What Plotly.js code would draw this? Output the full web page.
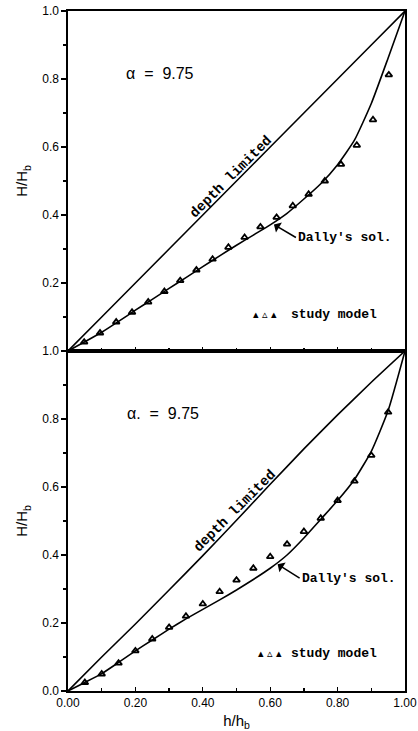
<!DOCTYPE html>
<html>
<head>
<meta charset="utf-8">
<script src="https://cdn.plot.ly/plotly-3.0.1.min.js"></script>
<style>html,body{margin:0;padding:0;background:#fff;}#chart{width:418px;height:731px;}</style>
</head>
<body>
<div id="chart"></div>
<script>
// ---- data ----
// top panel (study model points)
const topModelX = [0.048, 0.095, 0.143, 0.190, 0.238, 0.286, 0.333, 0.381, 0.429, 0.476,
                   0.524, 0.571, 0.619, 0.667, 0.714, 0.762, 0.810, 0.857, 0.905, 0.952];
const topModelY = [0.026, 0.053, 0.085, 0.114, 0.144, 0.175, 0.207, 0.238, 0.270, 0.305,
                   0.334, 0.365, 0.393, 0.427, 0.461, 0.500, 0.549, 0.605, 0.680, 0.812];
// bottom panel (study model points)
const botModelX = [0.05, 0.10, 0.15, 0.20, 0.25, 0.30, 0.35, 0.40, 0.45, 0.50,
                   0.55, 0.60, 0.65, 0.70, 0.75, 0.80, 0.85, 0.90, 0.95];
const botModelY = [0.025, 0.050, 0.082, 0.118, 0.153, 0.187, 0.220, 0.256, 0.292, 0.326,
                   0.361, 0.395, 0.432, 0.469, 0.508, 0.560, 0.617, 0.693, 0.820];
// Dally's solution curves
const dallyX = [0, 0.05, 0.10, 0.15, 0.20, 0.25, 0.30, 0.35, 0.40, 0.45, 0.50,
                0.55, 0.60, 0.65, 0.70, 0.75, 0.80, 0.85, 0.90, 0.95, 1.00];
const topDallyY = [0, 0.027, 0.055, 0.087, 0.120, 0.152, 0.184, 0.216, 0.248, 0.280, 0.311,
                   0.341, 0.371, 0.405, 0.447, 0.492, 0.548, 0.620, 0.728, 0.862, 1.000];
const botDallyY = [0, 0.025, 0.051, 0.084, 0.118, 0.150, 0.182, 0.212, 0.240, 0.268, 0.297,
                   0.328, 0.361, 0.400, 0.450, 0.505, 0.560, 0.622, 0.705, 0.825, 1.000];
// depth limited curves
const depthX = [0, 0.1, 0.2, 0.3, 0.4, 0.5, 0.6, 0.7, 0.8, 0.9, 1.0];
const topDepthY = [0, 0.100, 0.200, 0.300, 0.400, 0.500, 0.600, 0.700, 0.800, 0.900, 1.000];
const botDepthY = [0, 0.100, 0.197, 0.297, 0.398, 0.502, 0.608, 0.712, 0.812, 0.908, 1.000];
// tick labels
const xTickVals = [0, 0.2, 0.4, 0.6, 0.8, 1.0];
const xTickText = ['0.00', '0.20', '0.40', '0.60', '0.80', '1.00'];
const topYTickVals = [0.2, 0.4, 0.6, 0.8, 1.0];
const topYTickText = ['0.2', '0.4', '0.6', '0.8', '1.0'];
const botYTickVals = [0, 0.2, 0.4, 0.6, 0.8, 1.0];
const botYTickText = ['0.0', '0.2', '0.4', '0.6', '0.8', '1.0'];
const minorVals = [0.1, 0.3, 0.5, 0.7, 0.9];

const lineStyle = {color: '#000', width: 1.6, shape: 'spline', smoothing: 0.5};
const markerStyle = {symbol: 'triangle-up-open', size: 6, color: '#000', line: {color: '#000', width: 1.8}};

const traces = [
  {x: depthX, y: topDepthY, xaxis: 'x2', yaxis: 'y2', mode: 'lines', line: lineStyle, name: 'depth limited'},
  {x: dallyX, y: topDallyY, xaxis: 'x2', yaxis: 'y2', mode: 'lines', line: lineStyle, name: "Dally's sol."},
  {x: topModelX, y: topModelY, xaxis: 'x2', yaxis: 'y2', mode: 'markers', marker: markerStyle, name: 'study model'},
  {x: depthX, y: botDepthY, xaxis: 'x', yaxis: 'y', mode: 'lines', line: lineStyle, name: 'depth limited'},
  {x: dallyX, y: botDallyY, xaxis: 'x', yaxis: 'y', mode: 'lines', line: lineStyle, name: "Dally's sol."},
  {x: botModelX, y: botModelY, xaxis: 'x', yaxis: 'y', mode: 'markers', marker: markerStyle, name: 'study model'}
];

const axisCommon = {showgrid: false, zeroline: false, showline: true, linecolor: '#000', linewidth: 1.6,
                    mirror: true, range: [0, 1], fixedrange: true, tickcolor: '#000', tickwidth: 1.3};

const monoBold = {size: 13, family: 'Liberation Mono, DejaVu Sans Mono, monospace', weight: 'bold', color: '#000'};

const layout = {
  width: 418, height: 731,
  margin: {l: 68, r: 13, t: 11, b: 40},
  paper_bgcolor: '#fff', plot_bgcolor: '#fff',
  showlegend: false,
  font: {family: 'Liberation Sans, Arial, sans-serif', color: '#000', size: 12},
  xaxis: Object.assign({}, axisCommon, {
    domain: [0, 1], anchor: 'y', tickmode: 'array', tickvals: xTickVals, ticktext: xTickText,
    ticks: 'inside', ticklen: 4,
    minor: {tickmode: 'array', tickvals: minorVals, ticks: 'inside', ticklen: 3, tickcolor: '#000'},
    tickfont: {size: 12, family: 'Liberation Sans, Arial, sans-serif'},
    title: {text: 'h/h<sub>b</sub>', font: {size: 15}}
  }),
  yaxis: Object.assign({}, axisCommon, {
    domain: [0, 0.5], anchor: 'x', tickmode: 'array', tickvals: botYTickVals, ticktext: botYTickText,
    ticks: 'outside', ticklen: 5,
    minor: {tickmode: 'array', tickvals: minorVals, ticks: 'outside', ticklen: 3, tickcolor: '#000'},
    tickfont: {size: 12},
    title: {text: 'H/H<sub>b</sub>', font: {size: 15}}
  }),
  xaxis2: Object.assign({}, axisCommon, {
    domain: [0, 1], anchor: 'y2', tickmode: 'array', tickvals: xTickVals, showticklabels: false,
    ticks: 'inside', ticklen: 4,
    minor: {tickmode: 'array', tickvals: minorVals, ticks: 'inside', ticklen: 3, tickcolor: '#000'}
  }),
  yaxis2: Object.assign({}, axisCommon, {
    domain: [0.5, 1], anchor: 'x2', tickmode: 'array', tickvals: topYTickVals, ticktext: topYTickText,
    ticks: 'outside', ticklen: 5,
    minor: {tickmode: 'array', tickvals: minorVals, ticks: 'outside', ticklen: 3, tickcolor: '#000'},
    tickfont: {size: 12},
    title: {text: 'H/H<sub>b</sub>', font: {size: 15}}
  }),
  annotations: [
    // top panel
    {xref: 'x2', yref: 'y2', x: 0.274, y: 0.815, text: 'α  =  9.75', showarrow: false,
     font: {size: 16, family: 'Liberation Sans, Arial, sans-serif'}},
    {xref: 'x2', yref: 'y2', x: 0.482, y: 0.513, text: 'depth limited', showarrow: false, textangle: -45,
     font: {size: 14, family: 'Liberation Mono, DejaVu Sans Mono, monospace', weight: 'bold'}},
    {xref: 'x2', yref: 'y2', x: 0.611, y: 0.372, text: "Dally's sol.", showarrow: true,
     arrowhead: 1, arrowsize: 1.3, arrowwidth: 1.5, arrowcolor: '#000',
     ax: 22, ay: 13, xanchor: 'left', yanchor: 'middle', standoff: 0, startstandoff: 0, font: monoBold},
    {xref: 'x2', yref: 'y2', x: 0.586, y: 0.108, text: '▴ ▵ ▴', showarrow: false,
     font: {size: 11, family: 'DejaVu Sans, sans-serif'}},
    {xref: 'x2', yref: 'y2', x: 0.790, y: 0.108, text: 'study model', showarrow: false, font: monoBold},
    // bottom panel
    {xref: 'x', yref: 'y', x: 0.281, y: 0.817, text: 'α.  =  9.75', showarrow: false,
     font: {size: 16, family: 'Liberation Sans, Arial, sans-serif'}},
    {xref: 'x', yref: 'y', x: 0.494, y: 0.530, text: 'depth limited', showarrow: false, textangle: -45,
     font: {size: 14, family: 'Liberation Mono, DejaVu Sans Mono, monospace', weight: 'bold'}},
    {xref: 'x', yref: 'y', x: 0.622, y: 0.373, text: "Dally's sol.", showarrow: true,
     arrowhead: 1, arrowsize: 1.3, arrowwidth: 1.5, arrowcolor: '#000',
     ax: 22, ay: 14, xanchor: 'left', yanchor: 'middle', standoff: 0, startstandoff: 0, font: monoBold},
    {xref: 'x', yref: 'y', x: 0.598, y: 0.109, text: '▴ ▵ ▴', showarrow: false,
     font: {size: 11, family: 'DejaVu Sans, sans-serif'}},
    {xref: 'x', yref: 'y', x: 0.789, y: 0.109, text: 'study model', showarrow: false, font: monoBold}
  ]
};

Plotly.newPlot('chart', traces, layout, {staticPlot: true, displayModeBar: false});
</script>
</body>
</html>
